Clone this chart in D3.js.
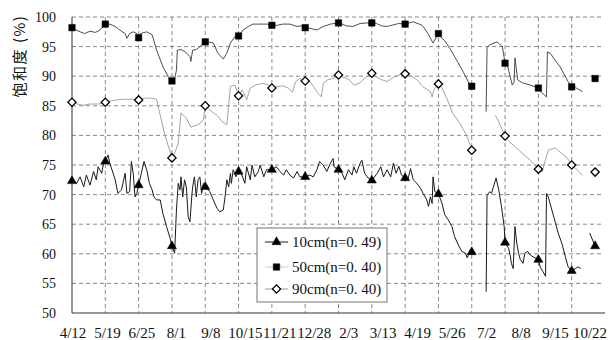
<!DOCTYPE html>
<html>
<head>
<meta charset="utf-8">
<script src="https://cdn.jsdelivr.net/npm/d3@7"></script>
<style>
    body { margin: 0; background: #fff; }
    svg text { font-family: 'Liberation Serif', 'DejaVu Serif', serif; fill: #111; }
    .ytitle { font-family: 'Noto Sans CJK SC', sans-serif; }
</style>
</head>
<body>
<svg id="chart" width="608" height="340"></svg>
<script>
// day index counted from 4/12, one grid step = 37 days
var tick_labels = ['4/12', '5/19', '6/25', '8/1', '9/8', '10/15', '11/21', '12/28',
                   '2/3', '3/13', '4/19', '5/26', '7/2', '8/8', '9/15', '10/22'];
var y_ticks = [50, 55, 60, 65, 70, 75, 80, 85, 90, 95, 100];
var marker_days = [0, 37, 74, 111, 148, 185, 222, 259, 296, 333, 370, 407, 444, 481, 518, 555, 581];

var series_10cm = [
    [0, 72.3], [5, 71.9], [9, 73.0], [13, 71.3], [16, 73.3], [20, 71.6], [24, 73.9], [27, 72.5],
    [29, 74.7], [33, 73.6], [35, 75.3], [37, 75.6], [40, 76.7], [42, 75.3], [48, 72.5], [51, 70.2],
    [55, 70.8], [59, 73.6], [61, 70.2], [64, 70.5], [66, 75.6], [68, 73.6], [70, 69.6], [72, 70.2],
    [74, 71.6], [77, 73.6], [80, 75.6], [83, 74.2], [86, 71.9], [89, 70.8], [91, 69.6], [94, 69.1],
    [98, 69.1], [101, 66.8], [105, 64.6], [109, 62.6], [111, 61.3], [114, 60.1], [116, 67.4],
    [118, 71.9], [120, 70.8], [121, 73.0], [123, 69.6], [125, 72.5], [127, 71.3], [129, 66.3],
    [131, 65.4], [133, 69.6], [134, 71.3], [136, 73.0], [138, 69.6], [140, 72.5], [142, 73.0],
    [144, 70.2], [146, 71.9], [148, 71.3], [153, 70.5], [157, 69.1], [161, 67.7], [164, 67.1],
    [168, 67.4], [170, 69.6], [172, 72.5], [174, 71.3], [176, 73.6], [177, 71.9], [179, 74.2],
    [182, 73.0], [185, 73.9], [188, 73.6], [192, 71.9], [194, 74.7], [198, 72.5], [200, 75.0],
    [203, 73.0], [207, 73.9], [209, 75.0], [213, 73.0], [216, 74.2], [222, 74.2], [227, 74.7],
    [231, 73.9], [235, 73.3], [238, 74.2], [242, 73.3], [246, 72.8], [250, 73.9], [253, 73.0],
    [259, 73.0], [264, 73.3], [268, 73.0], [272, 74.2], [275, 75.6], [279, 75.0], [283, 73.9],
    [287, 75.3], [290, 76.1], [291, 74.7], [296, 74.2], [300, 73.6], [303, 72.5], [307, 74.2],
    [311, 73.3], [313, 74.7], [316, 73.6], [320, 75.3], [322, 75.8], [325, 73.6], [329, 72.8],
    [333, 72.4], [335, 72.8], [339, 73.6], [343, 74.7], [346, 73.0], [350, 74.2], [354, 73.0],
    [357, 75.3], [360, 73.6], [363, 74.8], [366, 73.3], [370, 72.8], [373, 72.5], [376, 74.4],
    [379, 72.5], [383, 71.9], [387, 71.1], [390, 70.2], [394, 69.1], [396, 68.0], [398, 69.6],
    [400, 68.5], [401, 73.0], [403, 70.5], [407, 70.1], [411, 68.5], [414, 66.6], [418, 65.7],
    [422, 64.6], [425, 62.9], [429, 61.5], [433, 60.4], [437, 60.1], [439, 59.3], [442, 60.6],
    [444, 60.3], [452, null],
    [460, 53.6], [461, 69.9], [464, 70.5], [466, 70.2], [468, 71.3], [471, 72.8], [474, 70.8],
    [477, 68.0], [480, 64.6], [481, 61.9], [485, 60.9], [487, 59.5], [488, 58.4], [490, 57.5],
    [492, 64.6], [494, 61.8], [496, 60.1], [498, 59.0], [501, 58.4], [503, 60.1], [506, 60.4],
    [509, 59.8], [512, 59.5], [518, 59.0], [520, 57.8], [523, 57.0], [526, 56.2], [527, 70.2],
    [529, 69.6], [533, 67.4], [537, 65.2], [540, 63.5], [544, 61.8], [548, 59.5], [551, 57.8],
    [555, 57.1], [559, 57.5], [562, 57.8], [565, 57.5], [570, null],
    [575, 63.5], [581, 61.3]
];

var series_50cm = [
    [0, 98.2], [3, 97.9], [9, 97.5], [14, 97.2], [20, 97.6], [26, 97.4], [31, 97.8], [37, 98.8],
    [40, 98.9], [48, 98.4], [53, 97.8], [59, 97.2], [61, 96.4], [64, 97.2], [68, 97.5], [72, 97.2],
    [74, 96.5], [76, 97.2], [83, 97.5], [89, 97.0], [94, 94.4], [101, 91.6], [107, 89.9],
    [111, 89.2], [113, 88.9], [116, 91.0], [117, 94.4], [121, 94.5], [126, 94.1], [131, 93.3],
    [132, 92.5], [134, 94.4], [138, 94.5], [142, 95.0], [148, 95.8], [151, 95.8], [157, 95.6],
    [162, 93.9], [168, 92.9], [172, 93.9], [176, 95.6], [181, 96.7], [185, 96.8], [190, 97.8],
    [196, 98.4], [201, 98.8], [209, 98.8], [217, 98.8], [222, 98.6], [228, 98.6], [234, 98.8],
    [242, 98.8], [250, 98.4], [255, 98.5], [259, 98.2], [264, 98.1], [272, 97.8], [279, 98.4],
    [287, 98.8], [296, 99.0], [300, 98.8], [305, 98.5], [312, 98.4], [320, 98.9], [328, 99.0],
    [333, 99.0], [338, 98.9], [344, 98.5], [350, 98.4], [355, 98.6], [363, 98.9], [370, 98.8],
    [379, 99.2], [389, 98.6], [395, 97.3], [401, 95.6], [407, 97.2], [409, 96.7], [414, 96.0],
    [420, 94.6], [428, 92.5], [435, 90.6], [442, 88.5], [444, 88.3], [452, null],
    [460, 84.0], [461, 94.8], [464, 95.3], [472, 95.8], [478, 95.0], [481, 92.2], [484, 91.6],
    [489, 88.5], [491, 89.0], [492, 93.1], [495, 89.4], [500, 88.9], [509, 88.5], [518, 88.0],
    [522, 87.2], [527, 86.5], [528, 94.1], [531, 93.9], [542, 91.6], [551, 89.1], [555, 88.2],
    [559, 88.1], [567, 87.4], [574, null],
    [581, 89.6]
];

var series_90cm = [
    [0, 85.6], [6, 85.3], [12, 85.1], [20, 85.3], [28, 85.3], [34, 85.4], [37, 85.6], [42, 85.8],
    [50, 86.0], [57, 86.1], [64, 86.1], [72, 86.1], [74, 86.0], [79, 86.3], [87, 86.3], [94, 86.1],
    [98, 83.4], [103, 80.1], [109, 77.2], [111, 76.2], [114, 77.0], [118, 78.7], [121, 83.8],
    [127, 82.9], [132, 81.4], [140, 81.8], [146, 82.6], [148, 85.0], [153, 84.3], [161, 83.4],
    [167, 82.3], [172, 81.8], [176, 88.3], [181, 88.5], [185, 86.7], [189, 87.7], [192, 86.8],
    [194, 86.0], [198, 88.0], [204, 88.5], [212, 88.8], [219, 88.5], [222, 88.0], [227, 88.2],
    [234, 88.4], [240, 88.0], [245, 87.3], [248, 89.0], [253, 89.6], [259, 89.2], [263, 89.4],
    [268, 88.3], [273, 87.2], [277, 86.5], [279, 88.8], [284, 89.4], [290, 89.6], [296, 90.2],
    [300, 89.9], [308, 89.4], [313, 88.5], [319, 88.8], [327, 89.9], [333, 90.5], [338, 89.9],
    [344, 89.4], [350, 89.1], [358, 89.9], [365, 90.3], [370, 90.4], [375, 90.2], [383, 89.4],
    [390, 88.2], [398, 87.4], [400, 86.5], [402, 87.7], [407, 88.7], [411, 88.0], [417, 86.0],
    [423, 83.7], [431, 82.0], [439, 79.8], [444, 77.5], [455, null],
    [470, 83.4], [473, 82.6], [481, 79.9], [484, 79.2], [492, 78.1], [500, 77.0], [509, 75.8],
    [518, 74.3], [522, 73.8], [529, 77.5], [537, 77.9], [542, 77.2], [550, 76.2], [555, 75.0],
    [561, 74.2], [567, 73.3], [574, null],
    [581, 73.8]
];

var legend_labels = ['10cm(n=0. 49)', '50cm(n=0. 40)', '90cm(n=0. 40)'];

var margin = { left: 72, right: 3, top: 17, bottom: 27 };
var width = 608, height = 340;

var svg = d3.select('#chart');

var x = d3.scaleLinear().domain([0, 592]).range([margin.left, width - margin.right]);
var y = d3.scaleLinear().domain([50, 100]).range([height - margin.bottom, margin.top]);
var xlab = d3.scalePoint().domain(tick_labels).range([73, 590]);

// grid
var grid = svg.append('g').attr('class', 'grid');
grid.selectAll('line.h')
    .data(y_ticks.filter(v => v > 50))
    .enter().append('line')
        .attr('class', 'h')
        .attr('x1', x(0)).attr('x2', x(592) - 4)
        .attr('y1', d => y(d)).attr('y2', d => y(d));
grid.selectAll('line.v')
    .data(d3.range(1, 16))
    .enter().append('line')
        .attr('class', 'v')
        .attr('x1', d => x(d * 37)).attr('x2', d => x(d * 37))
        .attr('y1', y(100)).attr('y2', y(50));
grid.selectAll('line')
    .attr('stroke', '#8a8a8a')
    .attr('stroke-width', 1)
    .attr('stroke-dasharray', '4,3');

// axes lines
svg.append('line')
    .attr('x1', x(0)).attr('x2', x(0))
    .attr('y1', y(100)).attr('y2', y(50))
    .attr('stroke', '#333');
svg.append('line')
    .attr('x1', x(0)).attr('x2', x(592))
    .attr('y1', y(50)).attr('y2', y(50))
    .attr('stroke', '#333');

svg.append('g').selectAll('text')
    .data(y_ticks)
    .enter().append('text')
        .attr('x', 56)
        .attr('y', d => y(d))
        .attr('dy', '0.35em')
        .attr('text-anchor', 'end')
        .style('font-size', '14px')
        .text(d => d);

svg.append('g').selectAll('text')
    .data(tick_labels)
    .enter().append('text')
        .attr('x', d => xlab(d))
        .attr('y', 338)
        .attr('text-anchor', 'middle')
        .style('font-size', '15px')
        .text(d => d);

svg.append('text')
    .attr('class', 'ytitle')
    .attr('transform', 'translate(25,56) rotate(-90)')
    .attr('text-anchor', 'middle')
    .style('font-size', '15px')
    .style('letter-spacing', '1.5px')
    .text('饱和度 (%)');

// series
var line = d3.line()
    .defined(d => d[1] != null)
    .x(d => x(d[0]))
    .y(d => y(d[1]));

var series = [
    { data: series_10cm, color: '#1a1a1a', width: 1, symbol: d3.symbolTriangle, size: 36, fill: '#000', rot: 0 },
    { data: series_50cm, color: '#3a3a3a', width: 0.9, symbol: d3.symbolSquare, size: 42, fill: '#000', rot: 0 },
    { data: series_90cm, color: '#9a9a9a', width: 0.9, symbol: d3.symbolSquare, size: 34, fill: '#fff', rot: 45 },
];

series.forEach(function (s) {
    svg.append('path')
        .datum(s.data)
        .attr('fill', 'none')
        .attr('stroke', s.color)
        .attr('stroke-width', s.width)
        .attr('d', line);
});

series.forEach(function (s) {
    var pts = s.data.filter(d => d[1] != null && marker_days.indexOf(d[0]) >= 0);
    svg.append('g').selectAll('path')
        .data(pts)
        .enter().append('path')
            .attr('d', d3.symbol().type(s.symbol).size(s.size))
            .attr('transform', d => 'translate(' + x(d[0]) + ',' + y(d[1]) + ') rotate(' + s.rot + ')')
            .attr('fill', s.fill)
            .attr('stroke', '#000')
            .attr('stroke-width', s.fill == '#fff' ? 1.3 : 0.5);
});

// legend
var lg = svg.append('g').attr('transform', 'translate(257,228)');
lg.append('rect')
    .attr('width', 130).attr('height', 74)
    .attr('fill', '#fff')
    .attr('stroke', '#777');
var items = lg.selectAll('g.item')
    .data(series)
    .enter().append('g')
        .attr('class', 'item')
        .attr('transform', (d, i) => 'translate(0,' + [14, 39, 61][i] + ')');
items.append('line')
    .attr('x1', 8).attr('x2', 31)
    .attr('stroke', (d, i) => i == 1 ? '#ccc' : d.color);
items.append('path')
    .attr('d', d => d3.symbol().type(d.symbol).size(d.size)())
    .attr('transform', d => 'translate(19.5,0) rotate(' + d.rot + ')')
    .attr('fill', d => d.fill)
    .attr('stroke', '#000')
    .attr('stroke-width', d => d.fill == '#fff' ? 1.3 : 0.5);
items.append('text')
    .attr('x', 35)
    .attr('dy', '0.35em')
    .style('font-size', '15px')
    .text((d, i) => legend_labels[i]);
</script>
</body>
</html>
